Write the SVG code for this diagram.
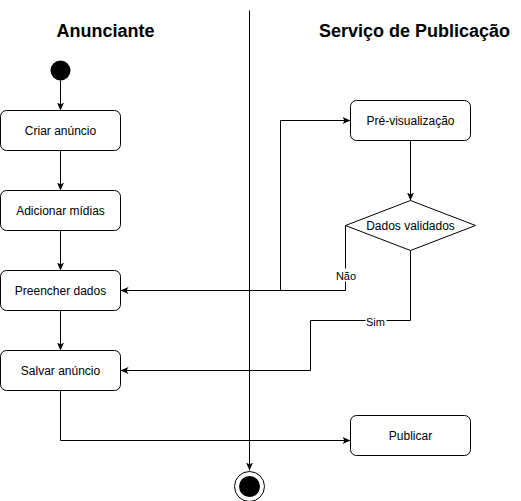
<svg xmlns="http://www.w3.org/2000/svg" width="521" height="501" viewBox="0 0 521 501">
<style>
.box{fill:#fff;stroke:#000;stroke-width:1}
.t{font-family:"Liberation Sans",Arial,sans-serif;font-size:12px;fill:#000;text-anchor:middle}
.h{font-family:"Liberation Sans",Arial,sans-serif;font-size:18px;font-weight:bold;fill:#000;text-anchor:middle}
.lbl{font-family:"Liberation Sans",Arial,sans-serif;font-size:11px;fill:#000;text-anchor:middle}
.e{fill:none;stroke:#000;stroke-width:1}
</style>
<defs>
<marker id="arr" viewBox="0 0 8 8" refX="8" refY="4" markerWidth="8" markerHeight="8" markerUnits="userSpaceOnUse" orient="auto">
<path d="M0,0.5 L8,4 L0,7.5 L2,4 Z" fill="#000"/>
</marker>
</defs>
<rect width="521" height="501" fill="#fff"/>
<g transform="translate(0.5,0.5)">
<g id="headers">
<text class="h" x="105" y="36">Anunciante</text>
<text class="h" x="414" y="36">Serviço de Publicação</text>
</g>
<g id="connectors">
<path class="e" d="M249,10 L249,470" marker-end="url(#arr)"/>
<path class="e" d="M60,80 L60,110" marker-end="url(#arr)"/>
<path class="e" d="M60,150 L60,190" marker-end="url(#arr)"/>
<path class="e" d="M60,230 L60,270" marker-end="url(#arr)"/>
<path class="e" d="M60,310 L60,350" marker-end="url(#arr)"/>
<path class="e" d="M280,290 L280,120 L350,120" marker-end="url(#arr)"/>
<path class="e" d="M410,140 L410,200" marker-end="url(#arr)"/>
<path class="e" d="M345,225 L345,290 L120,290" marker-end="url(#arr)"/>
<path class="e" d="M410,250 L410,320 L310,320 L310,370 L120,370" marker-end="url(#arr)"/>
<path class="e" d="M60,390 L60,440 L350,440" marker-end="url(#arr)"/>
<rect x="335" y="268" width="21" height="13" fill="#fff"/>
<text class="lbl" x="345.5" y="279">Não</text>
<rect x="365" y="314" width="21" height="13" fill="#fff"/>
<text class="lbl" x="375" y="325">Sim</text>
</g>
<g id="start"><circle cx="60" cy="70" r="10" fill="#000"/></g>
<g id="criar"><rect class="box" x="0" y="110" width="120" height="40" rx="6"/><text class="t" x="60" y="134">Criar anúncio</text></g>
<g id="adicionar"><rect class="box" x="0" y="190" width="120" height="40" rx="6"/><text class="t" x="60" y="214">Adicionar mídias</text></g>
<g id="preencher"><rect class="box" x="0" y="270" width="120" height="40" rx="6"/><text class="t" x="60" y="294">Preencher dados</text></g>
<g id="salvar"><rect class="box" x="0" y="350" width="120" height="40" rx="6"/><text class="t" x="60" y="374">Salvar anúncio</text></g>
<g id="previsualizacao"><rect class="box" x="350" y="100" width="120" height="40" rx="6"/><text class="t" x="410" y="124">Pré-visualização</text></g>
<g id="dados-validados"><path class="box" d="M410,200 L475,225 L410,250 L345,225 Z"/><text class="t" x="410" y="229">Dados validados</text></g>
<g id="publicar"><rect class="box" x="350" y="415" width="120" height="40" rx="6"/><text class="t" x="410" y="439">Publicar</text></g>
<g id="end"><circle cx="249" cy="486" r="15" fill="#fff" stroke="#000" stroke-width="1"/><circle cx="249" cy="486" r="10.5" fill="#000"/></g>
</g>
</svg>
